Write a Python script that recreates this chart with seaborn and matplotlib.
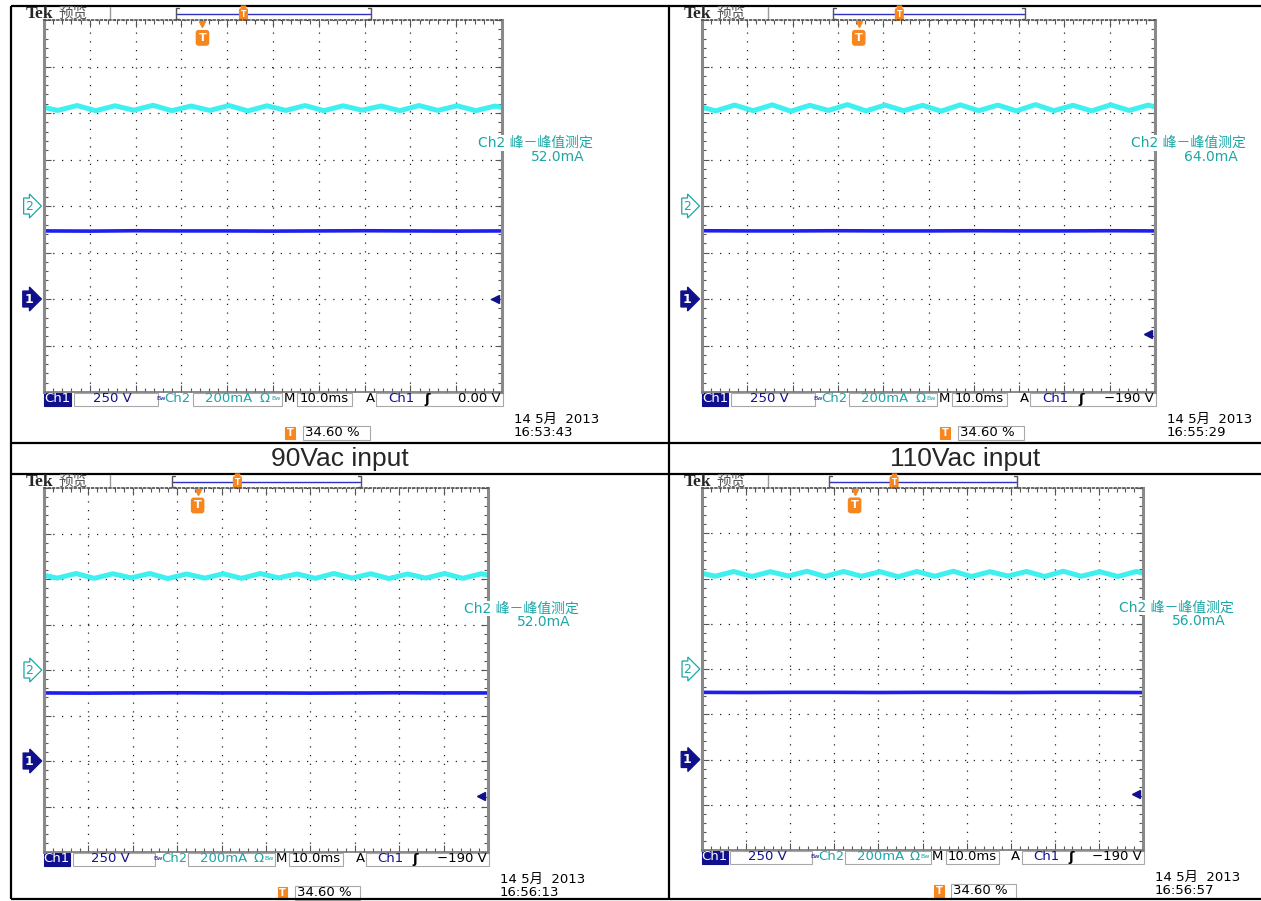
import numpy as np
import pandas as pd
import seaborn as sns
import matplotlib.pyplot as plt
import matplotlib.transforms as mtransforms
from matplotlib.patches import Rectangle

sns.set_theme(style='white')
plt.rcParams['font.family'] = ['DejaVu Sans', 'Noto Sans CJK SC']

W, H = 1261, 901

# Ch2 (cyan, mA) ripple vertices, time in ms across the 10 div screen
ripple_t = [0, 3.0, 7.2, 11.3, 15.5, 19.6, 23.8, 27.9, 32.1, 36.2, 40.4, 44.5, 48.7,
            52.8, 57.0, 61.1, 65.3, 69.4, 73.6, 77.7, 81.9, 86.0, 90.2, 94.3, 98.5, 100]
ch2_p1 = [424, 411, 432, 410, 431, 412, 433, 410, 430, 411, 432, 409, 431,
          411, 432, 410, 431, 412, 430, 410, 432, 411, 431, 410, 430, 424]
ch2_p2 = [425, 409, 434, 410, 435, 408, 433, 411, 436, 409, 434, 410, 433,
          408, 435, 410, 434, 409, 436, 410, 433, 409, 435, 411, 434, 426]
ch2_p3 = [416, 404, 424, 403, 423, 405, 424, 402, 422, 404, 423, 403, 424,
          405, 422, 403, 424, 404, 423, 402, 422, 404, 424, 403, 423, 417]
ch2_p4 = [423, 410, 431, 409, 430, 411, 432, 409, 431, 410, 430, 408, 431,
          410, 432, 409, 430, 411, 431, 409, 432, 410, 430, 409, 431, 424]

# Ch1 (blue, V) - flat DC level
ch1_t = [0, 10, 20, 30, 40, 50, 60, 70, 80, 90, 100]
ch1_p1 = [366, 365, 367, 366, 366, 365, 366, 367, 366, 365, 366]
ch1_p2 = [367, 366, 366, 367, 366, 366, 367, 366, 366, 367, 366]
ch1_p3 = [374, 373, 374, 375, 374, 374, 373, 374, 375, 374, 374]
ch1_p4 = [371, 370, 371, 371, 370, 371, 371, 370, 371, 371, 370]

input_titles = ['90Vac input', '110Vac input']
meas_text = ['52.0mA', '64.0mA', '52.0mA', '56.0mA']
trig_level = [0.0, -190, -190, -190]
trig_text = ['0.00 V', '\u2212190 V', '\u2212190 V', '\u2212190 V']
clock_text = ['16:53:43', '16:55:29', '16:56:13', '16:56:57']
trig_pos = 34.60      # % of record
ch1_scale = 250       # V/div
ch2_scale = 200       # mA/div
ch1_offset = -2.0     # div
ch2_offset = 0.0

CYAN = '#3ef0f0'
BLUE = '#1e1ef0'
NAVY = '#10108c'
TEAL = '#1ca6a6'
ORANGE = '#f7861e'
GRAYBOX = '#a8a8a8'

# grid rectangles of the four screens (px)
grids = [(44, 502, 20, 392), (702, 1155, 20, 392), (44, 488, 488, 852), (702, 1143, 488, 850)]
panels = list(zip(grids, [ch1_p1, ch1_p2, ch1_p3, ch1_p4], [ch2_p1, ch2_p2, ch2_p3, ch2_p4],
                  meas_text, trig_level, trig_text, clock_text))

fig = plt.figure(figsize=(W / 100, H / 100), dpi=100)
bg = fig.add_axes([0, 0, 1, 1])
bg.set_xlim(0, W)
bg.set_ylim(H, 0)
bg.axis('off')

# table frame
for y in [6, 443, 474, 899]:
    bg.plot([11, W], [y, y], color='black', lw=1.6, solid_capstyle='butt')
for x in [11, 669]:
    bg.plot([x, x], [6, 899], color='black', lw=1.6, solid_capstyle='butt')
for txt, xc in zip(input_titles, [340, 965]):
    bg.text(xc, 459, txt, ha='center', va='center', fontsize=19, family='Liberation Sans')


def box(x0, x1, y0, y1, fc='white', ec=GRAYBOX):
    bg.add_patch(Rectangle((x0, y0), x1 - x0, y1 - y0, fc=fc, ec=ec, lw=0.8))


for (gx0, gx1, gy0, gy1), ch1_v, ch2_v, meas, trig_v, trig_t, clock in panels:
    s = (gx1 - gx0) / 458
    sv = (gy1 - gy0) / 372

    def X(r):
        return gx0 + r * s

    ax = fig.add_axes([gx0 / W, 1 - gy1 / H, (gx1 - gx0) / W, (gy1 - gy0) / H])
    ax.set_facecolor('none')
    d2 = pd.DataFrame({'t': ripple_t, 'div': ch2_offset + np.array(ch2_v) / ch2_scale})
    d1 = pd.DataFrame({'t': ch1_t, 'div': ch1_offset + np.array(ch1_v) / ch1_scale})
    sns.lineplot(data=d2, x='t', y='div', ax=ax, color=CYAN, lw=3.6)
    sns.lineplot(data=d1, x='t', y='div', ax=ax, color=BLUE, lw=2.6)
    ax.set_xlim(0, 100)
    ax.set_ylim(-4, 4)
    ax.set_xlabel('')
    ax.set_ylabel('')
    ax.set_xticks(np.arange(0, 101, 10))
    ax.set_yticks(np.arange(-4, 5, 1))
    ax.set_xticks(np.arange(0, 101, 2), minor=True)
    ax.set_yticks(np.arange(-4, 4.01, 0.2), minor=True)
    ax.grid(True, which='major', color='#222', linestyle=(0, (1, 6)), linewidth=0.9)
    ax.tick_params(which='both', direction='in', color='#555', width=0.8,
                   labelbottom=False, labelleft=False, top=True, right=True,
                   bottom=True, left=True)
    ax.tick_params(which='major', length=5)
    ax.tick_params(which='minor', length=3)
    for side in ['left', 'right']:
        ax.spines[side].set_color('#8a8a8a')
        ax.spines[side].set_linewidth(2.2)
    ax.spines['top'].set_color('#555')
    ax.spines['top'].set_linestyle((0, (1, 1.5)))
    ax.spines['bottom'].set_color('#777')
    ax.spines['bottom'].set_linewidth(1.2)

    # channel ground markers and trigger level / position
    blend_y = mtransforms.blended_transform_factory(ax.transAxes, ax.transData)
    blend_x = mtransforms.blended_transform_factory(ax.transData, ax.transAxes)
    ax.text(-0.024, ch2_offset, '2', transform=blend_y, ha='right', va='center', fontsize=9,
            color=TEAL, bbox=dict(boxstyle='rarrow,pad=0.12', fc='white', ec=TEAL, lw=0.9),
            clip_on=False)
    ax.text(-0.024, ch1_offset, '1', transform=blend_y, ha='right', va='center', fontsize=9,
            color='white', fontweight='bold',
            bbox=dict(boxstyle='rarrow,pad=0.12', fc=NAVY, ec=NAVY, lw=0.9), clip_on=False)
    ax.plot([0.985], [ch1_offset + trig_v / ch1_scale], transform=blend_y, marker='<',
            ms=6, color=NAVY, clip_on=False)
    ax.text(trig_pos, 0.952, 'T', transform=blend_x, ha='center', va='center', fontsize=8,
            color='white', fontweight='bold',
            bbox=dict(boxstyle='round,pad=0.2', fc=ORANGE, ec=ORANGE))
    ax.plot([trig_pos], [0.99], transform=blend_x, marker='v', ms=5, color=ORANGE, clip_on=False)

    # measurement readout (drawn on top of the screen border)
    ax.text(gx1 - 24, gy0 + 123 * sv, 'Ch2 峰－峰值测定', transform=bg.transData, color=TEAL,
            va='center', fontsize=10, clip_on=False, zorder=10,
            bbox=dict(boxstyle='square,pad=0.05', fc='white', ec='none'))
    ax.text(gx1 + 29, gy0 + 137 * sv, meas, transform=bg.transData, color=TEAL,
            va='center', fontsize=10, clip_on=False, zorder=10)

    # header
    bg.text(gx0 - 18, gy0 - 6.5, 'Tek', fontsize=12.5, fontweight='bold',
            family='Liberation Serif', va='center')
    bg.text(gx0 + 14, gy0 - 6.5, '预览', fontsize=10.5, color='#555', va='center')
    bg.plot([gx0 + 66] * 2, [gy0 - 13, gy0 - 1], color='#999', lw=1)
    bx0, bx1 = X(132), X(327)
    bg.plot([bx0, bx1], [gy0 - 6.5] * 2, color='#3030c0', lw=1)
    bg.plot([bx0 + 3, bx0, bx0, bx0 + 3], [gy0 - 12, gy0 - 12, gy0 - 1, gy0 - 1], color='#555', lw=1)
    bg.plot([bx1 - 3, bx1, bx1, bx1 - 3], [gy0 - 12, gy0 - 12, gy0 - 1, gy0 - 1], color='#555', lw=1)
    tx = bx0 + trig_pos / 100 * (bx1 - bx0)
    bg.text(tx, gy0 - 5.5, 'T', fontsize=5.5, color='white', fontweight='bold', ha='center',
            va='center', bbox=dict(boxstyle='round,pad=0.15', fc=ORANGE, ec=ORANGE))
    bg.plot([tx], [gy0 - 12], marker='v', ms=3.5, color=ORANGE)

    # status bar under the screen
    yb0, yb1, yc = gy1 + 1, gy1 + 13.5, gy1 + 7
    fs = 9.5
    box(X(0), X(26.5), yb0, yb1, fc=NAVY, ec=NAVY)
    bg.text(X(13.25), yc, 'Ch1', color='white', ha='center', va='center', fontsize=fs)
    box(X(29.5), X(114), yb0, yb1)
    bg.text(X(68), yc, '250 V', color=NAVY, ha='center', va='center', fontsize=fs)
    bg.text(X(117.5), yc - 1, 'Bw', color=NAVY, ha='center', va='center', fontsize=4.5)
    bg.text(X(120.5), yc, 'Ch2', color=TEAL, ha='left', va='center', fontsize=fs)
    box(X(149), X(238), yb0, yb1)
    bg.text(X(161), yc, '200mA', color=TEAL, ha='left', va='center', fontsize=fs)
    bg.text(X(216), yc, 'Ω', color=TEAL, ha='left', va='center', fontsize=fs)
    bg.text(X(232), yc - 1, 'Bw', color=TEAL, ha='center', va='center', fontsize=4.5)
    bg.text(X(245), yc, 'M', color='black', ha='center', va='center', fontsize=fs)
    box(X(253), X(308), yb0, yb1)
    bg.text(X(280.5), yc, '10.0ms', color='black', ha='center', va='center', fontsize=fs)
    bg.text(X(326), yc, 'A', color='black', ha='center', va='center', fontsize=fs)
    box(X(332), X(459), yb0, yb1)
    bg.text(X(344), yc, 'Ch1', color=NAVY, ha='left', va='center', fontsize=fs)
    bg.text(X(383), yc, '\u0283', color='black', ha='center', va='center', fontsize=fs,
            fontweight='bold')
    bg.text(X(457), yc, trig_t, color='black', ha='right', va='center', fontsize=fs)

    # trigger position and time stamp
    box(X(241), X(251), gy1 + 35, gy1 + 47, fc=ORANGE, ec=ORANGE)
    bg.text(X(246), gy1 + 41, 'T', color='white', ha='center', va='center', fontsize=7,
            fontweight='bold')
    box(X(259), X(326), gy1 + 34, gy1 + 48)
    bg.text(X(261), gy1 + 41, f'{trig_pos:.2f} %', color='black', ha='left', va='center',
            fontsize=fs)
    bg.text(gx1 + 12, gy1 + 27, '14 5月  2013', color='black', va='center', fontsize=fs)
    bg.text(gx1 + 12, gy1 + 41, clock, color='black', va='center', fontsize=fs)

plt.savefig('out.png', dpi=100)
